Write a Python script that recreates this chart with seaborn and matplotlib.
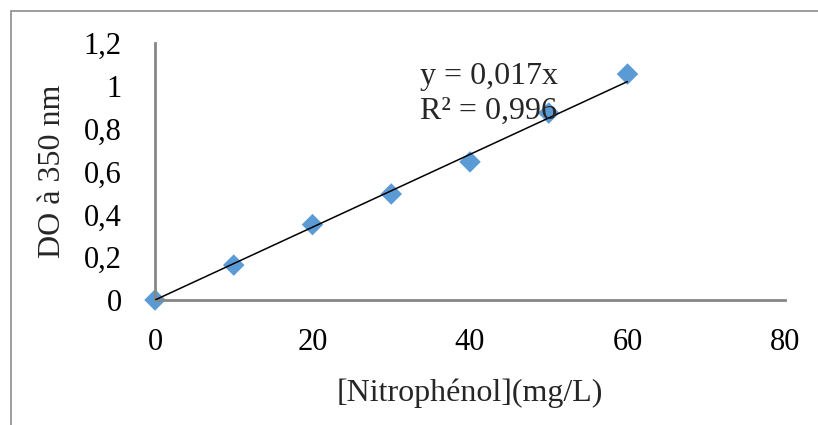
import matplotlib
matplotlib.use("Agg")
import numpy as np
import pandas as pd
import matplotlib.pyplot as plt
import seaborn as sns
from matplotlib.patches import Rectangle

# Données
concentration = [0, 10, 20, 30, 40, 50, 60]
absorbance = [0.0, 0.163, 0.352, 0.495, 0.645, 0.873, 1.055]
pente = 0.017
r2 = 0.996

df = pd.DataFrame({"conc": concentration, "do": absorbance})

sns.set_theme(style="white")
plt.rcParams["font.family"] = ["Liberation Serif", "DejaVu Serif"]

fig = plt.figure(figsize=(8.18, 4.25), dpi=100)
ax = fig.add_axes([155 / 818, 1 - 300 / 425, 630 / 818, 257 / 425])

sns.scatterplot(data=df, x="conc", y="do", marker="D", s=120,
                color="#5B9BD5", edgecolor="none", ax=ax, zorder=2,
                clip_on=False)

# Courbe de tendance (passant par l'origine)
xt = np.array([0, max(concentration)])
ax.plot(xt, pente * xt, color="black", lw=1.1, zorder=3)

ax.set_xlim(0, 80)
ax.set_ylim(0, 1.2)
ax.set_xticks([0, 20, 40, 60, 80])
ax.set_yticks([0, 0.2, 0.4, 0.6, 0.8, 1.0, 1.2])
ax.set_yticklabels(["0", "0,2", "0,4", "0,6", "0,8", "1", "1,2"])
ax.tick_params(axis="both", length=0, labelsize=22, colors="black")
ax.tick_params(axis="x", pad=20)
ax.tick_params(axis="y", pad=24)
for side in ["top", "right"]:
    ax.spines[side].set_visible(False)
for side in ["left", "bottom"]:
    ax.spines[side].set_color("#868686")
    ax.spines[side].set_linewidth(2)

ax.set_xlabel("[Nitrophénol](mg/L)", fontsize=23, labelpad=16)
ax.set_ylabel("DO à 350 nm", fontsize=23, labelpad=12)

fig.text(420 / 818, 1 - 84 / 425, "y = 0,017x", fontsize=23)
fig.text(420 / 818, 1 - 119 / 425, f"R² = {r2:.3f}".replace(".", ","), fontsize=23)

# Bordure de la zone de graphique
fig.patches.append(Rectangle((11 / 818, -0.2), 1.2, 1 - 11 / 425 + 0.2,
                             transform=fig.transFigure, fill=False,
                             edgecolor="#8c8c8c", lw=1.2))

fig.savefig("out.png", dpi=100)
